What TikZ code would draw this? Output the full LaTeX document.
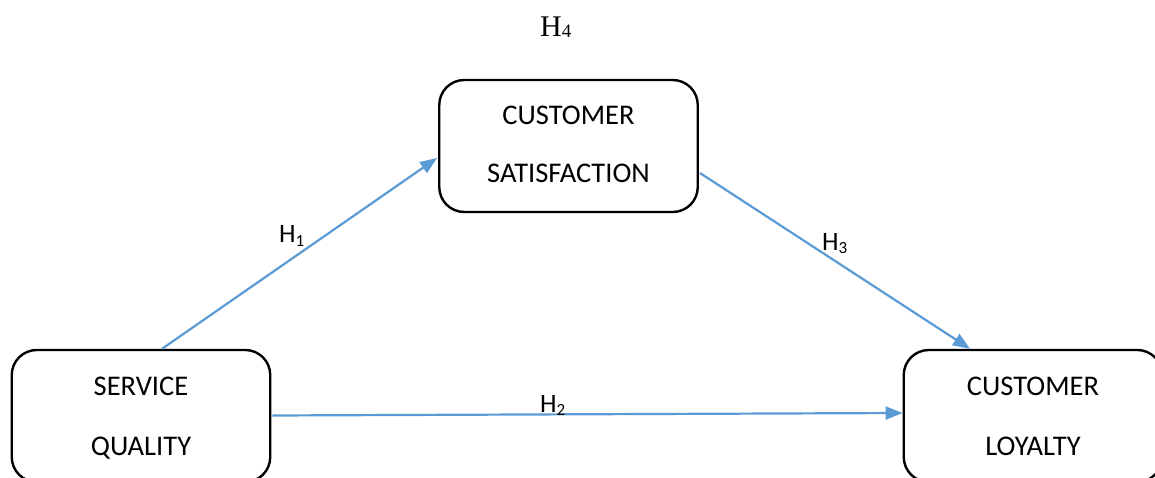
\documentclass[tikz,border=0pt]{standalone}
\usepackage{fontspec}
\setmainfont{Carlito}
\newfontfamily\serifH{Liberation Serif}
\usetikzlibrary{arrows.meta,calc}
\definecolor{linkblue}{RGB}{91,155,213}
\tikzset{
  conceptbox/.style={draw=black, line width=2.4pt, rounded corners=25pt,
    minimum width=258.5pt, minimum height=132pt, inner sep=0pt},
  boxtext/.style={anchor=base, inner sep=0pt, font=\fontsize{28.5}{30}\selectfont},
  hyplabel/.style={anchor=base west, inner sep=0pt, font=\fontsize{26.5}{28}\selectfont},
  link/.style={draw=linkblue, line width=2.2pt,
    -{Triangle[length=17pt,width=13pt,fill=linkblue]}},
}
\newcommand{\hsub}[1]{\raisebox{-3pt}{\fontsize{17}{17}\selectfont #1}}
\begin{document}
\begin{tikzpicture}[x=1pt,y=-1pt]
  \useasboundingbox (0,0) rectangle (1155,478);
  \fill[white] (0,0) rectangle (1155,478);

  % boxes
  \node[conceptbox] (sq) at (141,416) {};
  \node[conceptbox] (cs) at (568.5,146) {};
  \node[conceptbox] (cl) at (1033,416) {};

  % box captions
  \node[boxtext] (sq1) at (141,395) {SERVICE};
  \node[boxtext] (sq2) at (141,455) {QUALITY};
  \node[boxtext] (cs1) at (568.5,125) {CUSTOMER};
  \node[boxtext] (cs2) at (568.5,183) {SATISFACTION};
  \node[boxtext] (cl1) at (1033,395) {CUSTOMER};
  \node[boxtext] (cl2) at (1033,455) {LOYALTY};

  % hypothesised paths
  \draw[link] ($(sq.north)+(21,0)$) -- ($(cs.west)+(-1,12)$);
  \draw[link] ($(sq.east)+(1,-0.5)$) -- ($(cl.west)+(0,-3)$);
  \draw[link] ($(cs.east)+(1,27)$) -- ($(cl.north)+(-63,0)$);

  % hypothesis labels
  \node[hyplabel] (h1) at (279,243) {H\hsub{1}};
  \node[hyplabel] (h2) at (540,412) {H\hsub{2}};
  \node[hyplabel] (h3) at (822,250) {H\hsub{3}};
  \node[anchor=base west, inner sep=0pt] (h4) at (540,37)
    {\serifH\fontsize{30}{32}\selectfont H\raisebox{-1pt}{\fontsize{19}{19}\selectfont 4}};
\end{tikzpicture}
\end{document}
